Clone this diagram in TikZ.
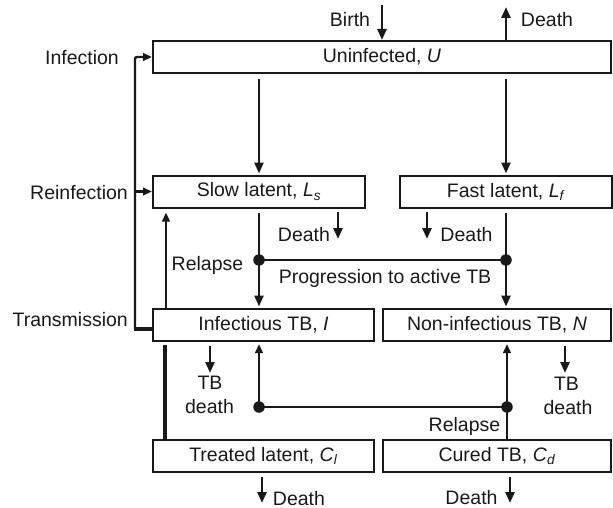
\documentclass[tikz,border=0pt]{standalone}
\usepackage{fontspec}
\setmainfont{Liberation Sans}
\usetikzlibrary{arrows.meta,calc}
\begin{document}
\begin{tikzpicture}[x=1pt,y=-1pt,
  every node/.style={font=\fontsize{19.5}{23}\selectfont, inner sep=0pt, text=black!90},
  box/.style={draw=black!90, line width=2pt, minimum height=32pt, anchor=center},
  lbl/.style={anchor=base},
  conn/.style={draw=black!90, line width=2.4pt, -{Triangle[length=11pt,width=9pt]}},
  sconn/.style={draw=black!90, line width=2.4pt, -{Triangle[length=9pt,width=7.5pt]}},
  plain/.style={draw=black!90, line width=2.4pt},
  heavy/.style={draw=black!90, line width=4.5pt},
  dot/.style={circle, fill=black!90, minimum size=11.5pt, inner sep=0pt}]
\useasboundingbox (0,0) rectangle (613,508);

% boxes
\node[box, minimum width=458pt] (U) at (382,57) {Uninfected, \textit{U}};
\node[box, minimum width=212pt] (Ls) at (259,191.5) {Slow latent, \textit{L}\textsubscript{\textit{s}}};
\node[box, minimum width=212pt] (Lf) at (506,191.5) {Fast latent, \textit{L}\textsubscript{\textit{f}}};
\node[box, minimum width=221pt] (I) at (263.5,325) {Infectious TB, \textit{I}};
\node[box, minimum width=228pt] (N) at (497,325) {Non-infectious TB, \textit{N}};
\node[box, minimum width=221pt] (Cl) at (263.5,456) {Treated latent, \textit{C}\textsubscript{\textit{l}}};
\node[box, minimum width=228pt] (Cd) at (497,456) {Cured TB, \textit{C}\textsubscript{\textit{d}}};

% labels
\node[anchor=base east] (linf) at (119,65) {Infection};
\node[anchor=base east] (lrein) at (128,199) {Reinfection};
\node[anchor=base east] (ltrans) at (128,326) {Transmission};
\node[lbl] (lbirth) at (350,27) {Birth};
\node[lbl] (ldU) at (547,27) {Death};
\node[lbl] (ldLs) at (304,241) {Death};
\node[lbl] (ldLf) at (466.5,241) {Death};
\node[lbl] (lrel1) at (207.5,270) {Relapse};
\node[lbl] (lprog) at (385,283) {Progression to active TB};
\node[lbl] (ltbI) at (210,389) {TB};
\node[lbl] (ldthI) at (209.5,413) {death};
\node[lbl] (ltbN) at (566.5,390) {TB};
\node[lbl] (ldthN) at (568,414) {death};
\node[lbl] (lrel2) at (464.5,431) {Relapse};
\node[lbl] (ldCl) at (299,505) {Death};
\node[lbl] (ldCd) at (471.5,504) {Death};

% coordinates
\coordinate (bs) at (382,5);
\coordinate (de) at (506,7);
\coordinate (lt) at (135,57);
\coordinate (lb) at (135,329);
\coordinate (rx) at (166,0);
\coordinate (hx) at (165,0);
\coordinate (d1) at (259,260);
\coordinate (d2) at (506,260);
\coordinate (d3) at (259,407);
\coordinate (d4) at (507,407);
\coordinate (ls1) at (338,212); \coordinate (ls2) at (338,239);
\coordinate (lf1) at (427,212); \coordinate (lf2) at (427,239);
\coordinate (ti1) at (210,346); \coordinate (ti2) at (210,373);
\coordinate (tn1) at (565,346); \coordinate (tn2) at (565,373);
\coordinate (cl1) at (262,477); \coordinate (cl2) at (262,503);
\coordinate (cd1) at (510,477); \coordinate (cd2) at (510,503);

% birth / death at top
\draw[conn] (bs) -- (bs |- U.north);
\draw[conn] (de |- U.north) -- (de);

% infection loop
\draw[heavy] (lb -| I.west) -- ([xshift=-1.2pt]lb);
\draw[sconn, rounded corners=2pt] (lb) -- (lt) -- (U.west);
\draw[sconn] (lt |- Ls.west) -- (Ls.west);

% U to latent
\draw[conn, shorten <=5pt, shorten >=1pt] (Ls.north |- U.south) -- (Ls.north);
\draw[conn, shorten <=5pt, shorten >=1pt] (Lf.north |- U.south) -- (Lf.north);

% latent deaths
\draw[conn] (ls1) -- (ls2);
\draw[conn] (lf1) -- (lf2);

% progression
\draw[conn, shorten <=4pt, shorten >=1.5pt] (Ls.south) -- (Ls.south |- I.north);
\draw[conn, shorten <=4pt, shorten >=1.5pt] (Lf.south) -- (Lf.south |- N.north);
\draw[plain] (d1) -- (d2);
\node[dot] (D1) at (d1) {};
\node[dot] (D2) at (d2) {};

% relapse up from I to Ls
\draw[sconn, shorten >=4pt] (rx |- I.north) -- (rx |- Ls.south);

% treated latent heavy link
\draw[heavy, shorten >=3pt] (hx |- Cl.north) -- (hx |- I.south);

% TB deaths
\draw[conn] (ti1) -- (ti2);
\draw[conn] (tn1) -- (tn2);

% relapse from cured
\draw[plain] (d3) -- (d4);
\draw[sconn, shorten >=2pt] (d3) -- (d3 |- I.south);
\draw[sconn, shorten >=2pt] (d4 |- Cd.north) -- (d4 |- N.south);
\node[dot] (D3) at (d3) {};
\node[dot] (D4) at (d4) {};

% bottom deaths
\draw[conn] (cl1) -- (cl2);
\draw[conn] (cd1) -- (cd2);
\end{tikzpicture}
\end{document}
